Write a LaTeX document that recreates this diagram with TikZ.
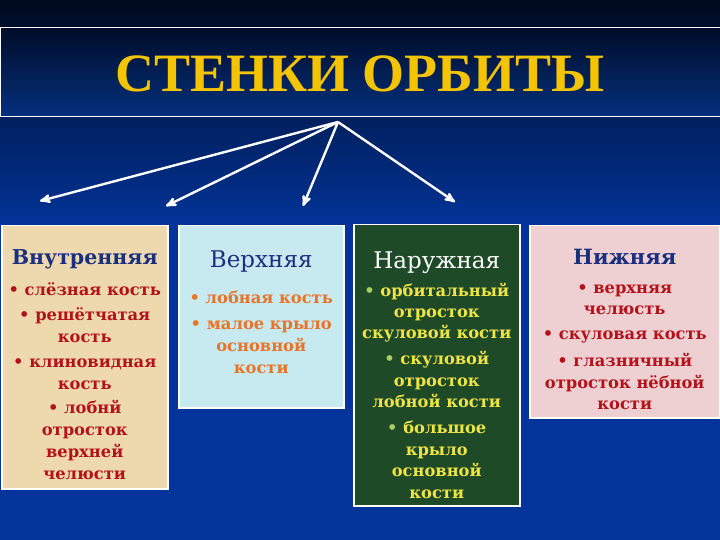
\documentclass[tikz,border=0pt]{standalone}
\usepackage{fontspec}
\setmainfont{DejaVu Serif}
\newfontfamily\titlefont{Liberation Serif}
\usepackage{tikz}
\usetikzlibrary{arrows,positioning}
\definecolor{NightBlue}{HTML}{000A1E}
\definecolor{SlideBlue}{HTML}{02349A}
\definecolor{BandTop}{HTML}{000C28}
\definecolor{BandBottom}{HTML}{04307C}
\definecolor{TitleGold}{HTML}{F5C400}
\definecolor{HeadBlue}{HTML}{1B2F80}
\definecolor{BoneRed}{HTML}{B3121B}
\definecolor{BoneOrange}{HTML}{E8742A}
\definecolor{BoneYellow}{HTML}{EEE445}
\definecolor{BulletGreen}{HTML}{A8D060}
\definecolor{Papyrus}{HTML}{EED9AE}
\definecolor{Ice}{HTML}{C7E9F0}
\definecolor{Marble}{HTML}{1E4A28}
\definecolor{Rose}{HTML}{EFD0D2}
\newcommand{\bul}[1]{{\color{#1}\textbullet}~}

\begin{document}
\begin{tikzpicture}[x=1pt,y=-1pt,>=stealth']
        \tikzset{
            wall/.style={draw=white, line width=1.5pt, anchor=north west, inner sep=0pt},
            head/.style={inner sep=0pt, font=\fontsize{23}{26}\selectfont},
            items/.style={inner sep=0pt, align=center, font=\bfseries\fontsize{16.3}{22}\selectfont},
            spoke/.style={->, white, line width=2.4pt}
        }
        \useasboundingbox (0,0) rectangle (720,540);

        % Draw the background and the title band
        \fill[top color=NightBlue, bottom color=SlideBlue] (0,0) rectangle (720,230);
        \fill[SlideBlue] (0,229) rectangle (720,540);
        \draw[white, line width=0.8pt, top color=BandTop, bottom color=BandBottom] (0,27) rectangle (720,116);
        \node[text=TitleGold, font=\titlefont\bfseries\fontsize{54}{54}\selectfont] (title) at (360,74) {СТЕНКИ ОРБИТЫ};

        % Draw the four walls
        \node[wall, fill=Papyrus, minimum width=166pt, minimum height=263pt] (b1) at (1,225) {};
        \node[wall, fill=Ice, minimum width=165pt, minimum height=182pt] (b2) at (178,225) {};
        \node[wall, fill=Marble, minimum width=166pt, minimum height=281pt] (b3) at (353,224) {};
        \node[wall, fill=Rose, minimum width=190pt, minimum height=192pt] (b4) at (529,225) {};

        % Headings
        \node[head, text=HeadBlue, font=\bfseries\fontsize{20.5}{24}\selectfont, below=24pt of b1.north] (h1) {Внутренняя};
        \node[head, text=HeadBlue, below=26pt of b2.north] (h2) {Верхняя};
        \node[head, text=white, below=28pt of b3.north] (h3) {Наружная};
        \node[head, text=HeadBlue, font=\bfseries\fontsize{21}{24}\selectfont, below=24pt of b4.north] (h4) {Нижняя};

        % Bone lists
        \node[items, text=BoneRed, below=14pt of h1] (l1) {\bul{BoneRed}слёзная кость\\[3pt]
            \bul{BoneRed}решётчатая\\ кость\\[3pt]
            \bul{BoneRed}клиновидная\\ кость\\[2pt]
            \bul{BoneRed}лобнй\\ отросток\\ верхней\\ челюсти};
        \node[items, text=BoneOrange, below=18pt of h2] (l2) {\bul{BoneOrange}лобная кость\\[4pt]
            \bul{BoneOrange}малое крыло\\ основной\\ кости};
        \node[items, text=BoneYellow, below=9pt of h3] (l3) {\bul{BulletGreen}орбитальный\\[-1pt] отросток\\[-1pt] скуловой кости\\[4pt]
            \bul{BulletGreen}скуловой\\ отросток\\[-1pt] лобной кости\\[4pt]
            \bul{BulletGreen}большое\\ крыло\\[-1pt] основной\\ кости};
        \node[items, text=BoneRed, below=20pt of h4] (l4) {\bul{BoneRed}верхняя\\[-1pt] челюсть\\[3pt]
            \bul{BoneRed}скуловая кость\\[5pt]
            \bul{BoneRed}глазничный\\ отросток нёбной\\[-1pt] кости};

        % Draw the arrows from the title to the walls
        \coordinate (hub) at (338,122);
        \coordinate (e1) at (40,201);
        \coordinate (e2) at (166,206);
        \coordinate (e3) at (303,206);
        \coordinate (e4) at (455,202);
        \foreach \i in {1, 2, 3, 4}{
            \draw[spoke] (hub) to (e\i);
        }
    \end{tikzpicture}
\end{document}
